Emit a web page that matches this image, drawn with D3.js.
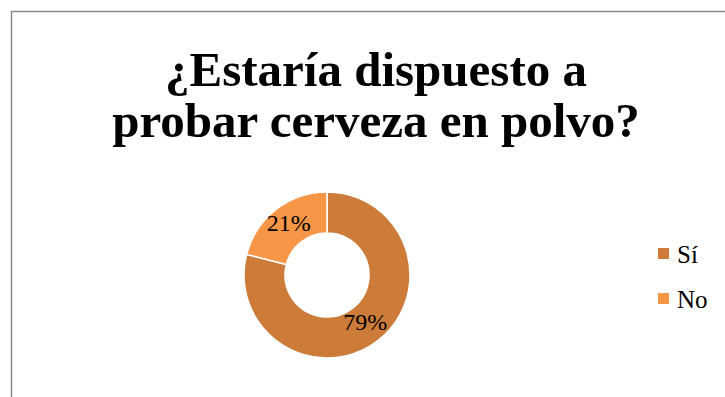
<!DOCTYPE html>
<html>
<head>
<meta charset="utf-8">
<script src="https://cdn.jsdelivr.net/npm/d3@7"></script>
<style>
  body { margin: 0; background: #fff; }
  svg { display: block; font-family: "Liberation Serif", "Times New Roman", serif; }
</style>
</head>
<body>
<div id="chart"></div>
<script>
const categories = ['Sí', 'No'];
const values = [79, 21];
const colors = ['#CC7B38', '#F79646'];
const titleLines = ['¿Estaría dispuesto a', 'probar cerveza en polvo?'];

const width = 725;
const height = 397;
const cx = 327;
const cy = 275;
const radius = 83;
const innerRadius = 42;

const svg = d3.select('#chart')
  .append('svg')
  .attr('width', width)
  .attr('height', height);

// chart frame (runs past the right / bottom edge)
svg.append('rect')
  .attr('x', 11.5)
  .attr('y', 11.5)
  .attr('width', 720)
  .attr('height', 400)
  .attr('fill', '#fff')
  .attr('stroke', '#8c8c8c')
  .attr('stroke-width', 1.5);

svg.selectAll('.title')
  .data(titleLines)
  .enter()
  .append('text')
  .attr('class', 'title')
  .attr('x', 376)
  .attr('y', (d, i) => 86 + i * 51)
  .attr('text-anchor', 'middle')
  .attr('font-size', '49px')
  .attr('font-weight', 'bold')
  .attr('fill', '#000')
  .text(d => d);

const data = categories.map((c, i) => ({ category: c, value: values[i] }));
const total = d3.sum(values);

const colorScale = d3.scaleOrdinal()
  .domain(categories)
  .range(colors);

const pie = d3.pie()
  .value(d => d.value)
  .sort(null);

const arc = d3.arc()
  .innerRadius(innerRadius)
  .outerRadius(radius);

const g = svg.append('g')
  .attr('transform', `translate(${cx},${cy})`);

const arcs = pie(data);

g.selectAll('.slice')
  .data(arcs)
  .enter()
  .append('path')
  .attr('class', 'slice')
  .attr('d', arc)
  .attr('fill', d => colorScale(d.data.category))
  .attr('stroke', '#fff')
  .attr('stroke-width', 1.5);

g.selectAll('.pct')
  .data(arcs)
  .enter()
  .append('text')
  .attr('class', 'pct')
  .attr('transform', d => {
    const c = arc.centroid(d);
    return `translate(${c[0]},${c[1]})`;
  })
  .attr('text-anchor', 'middle')
  .attr('dominant-baseline', 'middle')
  .attr('font-size', '24px')
  .attr('fill', '#000')
  .text(d => `${Math.round(d.data.value / total * 100)}%`);

const legend = svg.append('g')
  .attr('transform', 'translate(658, 248)');

legend.selectAll('rect')
  .data(data)
  .enter()
  .append('rect')
  .attr('x', 0)
  .attr('y', (d, i) => i * 45)
  .attr('width', 11)
  .attr('height', 11)
  .attr('fill', d => colorScale(d.category));

legend.selectAll('text')
  .data(data)
  .enter()
  .append('text')
  .attr('x', 19)
  .attr('y', (d, i) => i * 45 + 15)
  .attr('font-size', '25px')
  .attr('fill', '#000')
  .text(d => d.category);
</script>
</body>
</html>
